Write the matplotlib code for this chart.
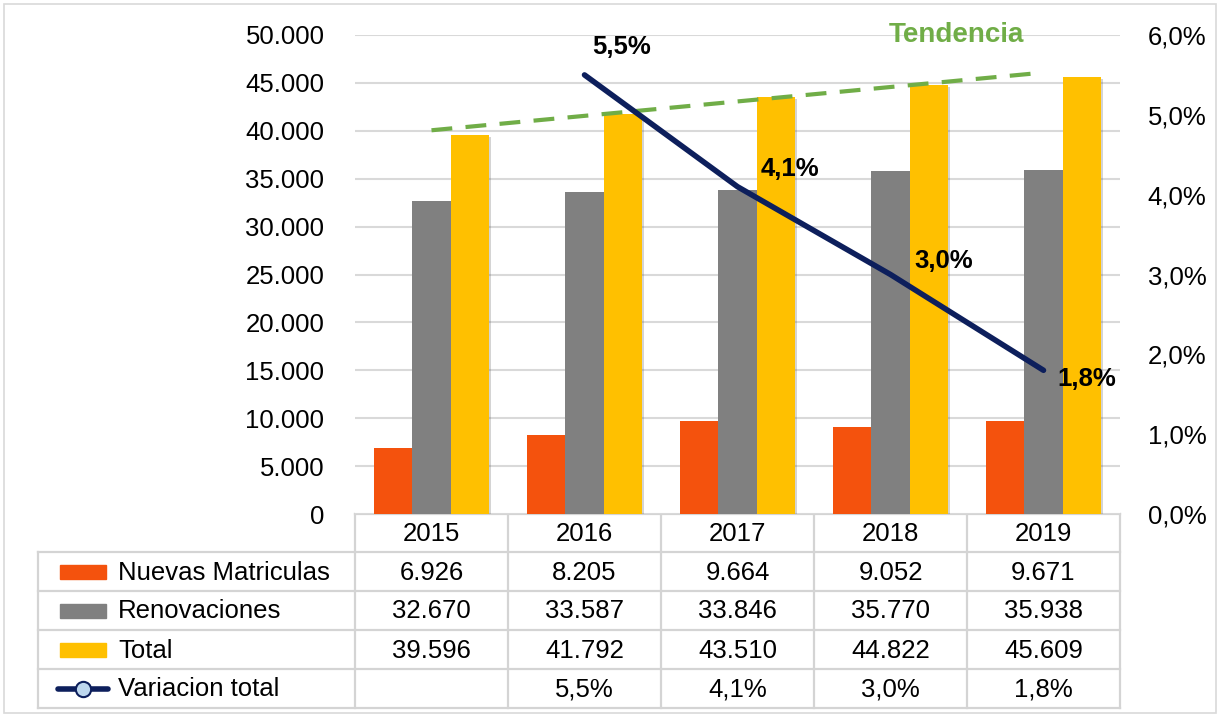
import numpy as np
import matplotlib
matplotlib.use('Agg')
import matplotlib.pyplot as plt
import matplotlib.patheffects as pe
from matplotlib.patches import Rectangle
from matplotlib.lines import Line2D

plt.rcParams['font.family'] = ['Liberation Sans', 'DejaVu Sans']

# data
years = ['2015', '2016', '2017', '2018', '2019']
nuevas = [6926, 8205, 9664, 9052, 9671]
renovaciones = [32670, 33587, 33846, 35770, 35938]
total = [39596, 41792, 43510, 44822, 45609]
variacion = [None, 5.5, 4.1, 3.0, 1.8]  # %

series_names = ['Nuevas Matriculas', 'Renovaciones', 'Total', 'Variacion total']
c_orange = '#f4520d'
c_gray = '#808080'
c_yellow = '#ffc000'
c_navy = '#0d1f5c'
c_green = '#70ad47'
c_grid = '#d9d9d9'
fs = 18.5


def fmt_miles(v):
    return f'{v:,.0f}'.replace(',', '.')


def fmt_pct(v):
    return f'{v:.1f}%'.replace('.', ',')


W, H = 1220, 717
fig = plt.figure(figsize=(W / 100, H / 100), dpi=100)

# plot area in pixels
px_l, px_r, px_t, px_b = 355, 1120, 35, 514
ax = fig.add_axes([px_l / W, 1 - px_b / H, (px_r - px_l) / W, (px_b - px_t) / H])
ax2 = ax.twinx()

x = np.arange(len(years))
bw = 0.25
shadow = [pe.SimplePatchShadow(offset=(1.5, -1.5), alpha=0.25, shadow_rgbFace='#555555'), pe.Normal()]
for k, (vals, col) in enumerate([(nuevas, c_orange), (renovaciones, c_gray), (total, c_yellow)]):
    bars = ax.bar(x + (k - 1) * bw, vals, bw, color=col, zorder=3)
    for b in bars:
        b.set_path_effects(shadow)

ax.set_xlim(-0.5, len(years) - 0.5)
ax.set_ylim(0, 50000)
ax.set_yticks(np.arange(0, 50001, 5000))
ax.set_yticklabels([fmt_miles(v) for v in np.arange(0, 50001, 5000)])
ax.yaxis.grid(True, color=c_grid, lw=1.5, zorder=0)
ax.set_axisbelow(True)
ax.set_xticks([])
ax.tick_params(axis='y', length=0, labelsize=fs, pad=22)
for s in ax.spines.values():
    s.set_visible(False)

# trend line of total
coef = np.polyfit(x, total, 1)
ax.plot(x, np.polyval(coef, x), color=c_green, lw=3, ls=(0, (5, 3.2)), zorder=4)
ax.text(3.43, 50000, 'Tendencia', color=c_green, fontsize=20, fontweight='bold',
        ha='center', va='center', zorder=6)

# variation line on secondary axis
xv = [i for i, v in enumerate(variacion) if v is not None]
yv = [v for v in variacion if v is not None]
ax2.plot(xv, yv, color=c_navy, lw=4, solid_capstyle='round', zorder=5)
ax2.set_ylim(0, 6)
ax2.set_yticks(np.arange(0, 6.01, 1))
ax2.set_yticklabels([fmt_pct(v) for v in np.arange(0, 6.01, 1)])
ax2.tick_params(axis='y', length=0, labelsize=fs, pad=20)
for s in ax2.spines.values():
    s.set_visible(False)

label_off = [(27, 20), (38, 13), (38, 10), (31, -6)]
for (xi, yi), off in zip(zip(xv, yv), label_off):
    ax2.annotate(fmt_pct(yi), (xi, yi), xytext=off, textcoords='offset points',
                 ha='center', va='center', fontsize=18.5, fontweight='bold', zorder=7)

# data table drawn on an overlay in pixel coordinates
ov = fig.add_axes([0, 0, 1, 1], zorder=-1)
ov.set_xlim(0, W)
ov.set_ylim(H, 0)
ov.axis('off')
ov.patch.set_alpha(0)

col_w = (px_r - px_l) / len(years)
col_edges = [px_l + i * col_w for i in range(len(years) + 1)]
row_edges = [514, 552, 591, 630, 669, 708]
lab_l = 38
tc = '#d4d4d4'
tlw = 1.6

# header (years)
ov.plot([px_l, px_r], [row_edges[0], row_edges[0]], color=tc, lw=tlw)
for xe in col_edges:
    ov.plot([xe, xe], [row_edges[0], row_edges[-1]], color=tc, lw=tlw)
for yr_i, yr in enumerate(years):
    ov.text(px_l + (yr_i + 0.5) * col_w, (row_edges[0] + row_edges[1]) / 2 + 1, yr,
            ha='center', va='center', fontsize=fs)
for ye in row_edges[1:]:
    ov.plot([lab_l, px_r], [ye, ye], color=tc, lw=tlw)
ov.plot([lab_l, lab_l], [row_edges[1], row_edges[-1]], color=tc, lw=tlw)

rows = [
    [fmt_miles(v) for v in nuevas],
    [fmt_miles(v) for v in renovaciones],
    [fmt_miles(v) for v in total],
    ['' if v is None else fmt_pct(v) for v in variacion],
]
key_cols = [c_orange, c_gray, c_yellow, None]
for r, (name, cells, kc) in enumerate(zip(series_names, rows, key_cols)):
    yc = (row_edges[r + 1] + row_edges[r + 2]) / 2
    if kc is not None:
        ov.add_patch(Rectangle((60, yc - 7), 46, 14, color=kc))
    else:
        ov.add_line(Line2D([58, 108], [yc, yc], color=c_navy, lw=4, solid_capstyle='round'))
        ov.plot([83], [yc], marker='o', ms=11, mfc='#bdd7ee', mec=c_navy, mew=1.5)
    ov.text(118, yc + 1, name, ha='left', va='center', fontsize=fs)
    for c, txt in enumerate(cells):
        ov.text(px_l + (c + 0.5) * col_w, yc + 1, txt, ha='center', va='center', fontsize=fs)

# chart border
ov.add_patch(Rectangle((4, 4), W - 8, H - 8, fill=False, ec='#d9d9d9', lw=1.2))

fig.savefig('out.png', dpi=100)
